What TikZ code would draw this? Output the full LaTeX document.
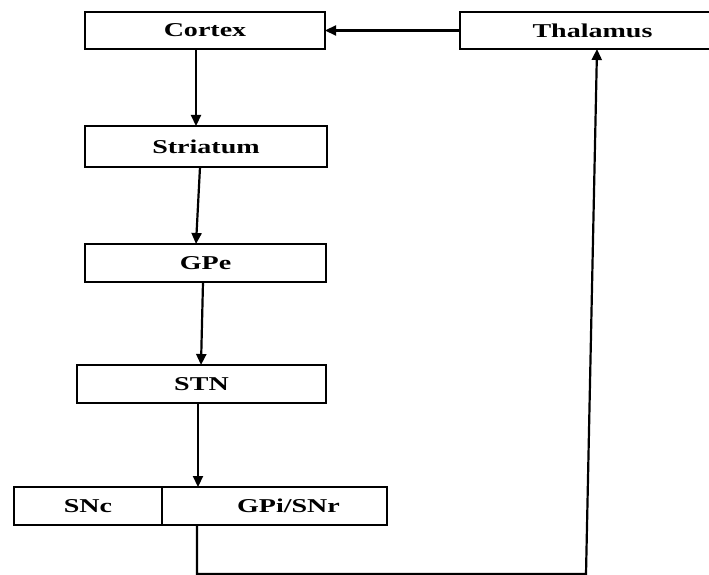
\documentclass[tikz,border=0pt]{standalone}
\usepackage{fontspec}
\usepackage{graphicx}
\setmainfont{Liberation Serif}
\usetikzlibrary{arrows.meta}
% wide bold labels
\newcommand{\lbl}[1]{\scalebox{1.43}[1]{\bfseries #1}}
\begin{document}
\begin{tikzpicture}[x=1pt,y=-1pt,
  box/.style={draw,line width=2.2pt,rectangle,inner sep=0pt,outer sep=0pt,
    font=\fontsize{19.6}{22}\selectfont},
  arr/.style={line width=2.2pt,-{Triangle[length=11pt,width=10pt]}},
  link/.style={line width=2.2pt}]
\clip (0,0) rectangle (709,575);
\fill[white] (0,0) rectangle (709,575);

% boxes (the Thalamus box runs past the right edge)
\node[box,minimum width=240pt,minimum height=37pt] (cortex) at (205,30.5) {\lbl{Cortex}};
\node[box,minimum width=265pt,minimum height=37pt] (thal) at (592.5,30.5) {\lbl{Thalamus}};
\node[box,minimum width=242pt,minimum height=41pt] (striatum) at (206,146.5) {\lbl{Striatum}};
\node[box,minimum width=241pt,minimum height=38pt] (gpe) at (205.5,263) {\lbl{GPe}};
\node[box,minimum width=249pt,minimum height=38pt] (stn) at (201.5,384) {\lbl{STN}};
\node[box,minimum width=148pt,minimum height=38pt] (snc) at (88,506) {\lbl{SNc}};
\node[box,minimum width=225pt,minimum height=38pt] (gpi) at (274.5,506) {\hspace*{28pt}\lbl{GPi/SNr}};

% pathway
\draw[arr] (thal.west) -- (cortex.east);
\draw[arr] ([xshift=-9pt]cortex.south) -- ([xshift=-10pt]striatum.north);
\draw[arr] ([xshift=-6pt]striatum.south) -- ([xshift=-9.5pt]gpe.north);
\draw[arr] ([xshift=-2.5pt]gpe.south) -- ([xshift=-0.5pt]stn.north);
\draw[arr] ([xshift=-3.5pt]stn.south) -- ([xshift=-76.5pt]gpi.north);
\coordinate (corner) at (586,574);
\draw[link,-{Triangle[length=11pt,width=10pt]}] ([xshift=-77.5pt]gpi.south) |- (corner) -- ([xshift=4.5pt]thal.south);
\end{tikzpicture}
\end{document}
